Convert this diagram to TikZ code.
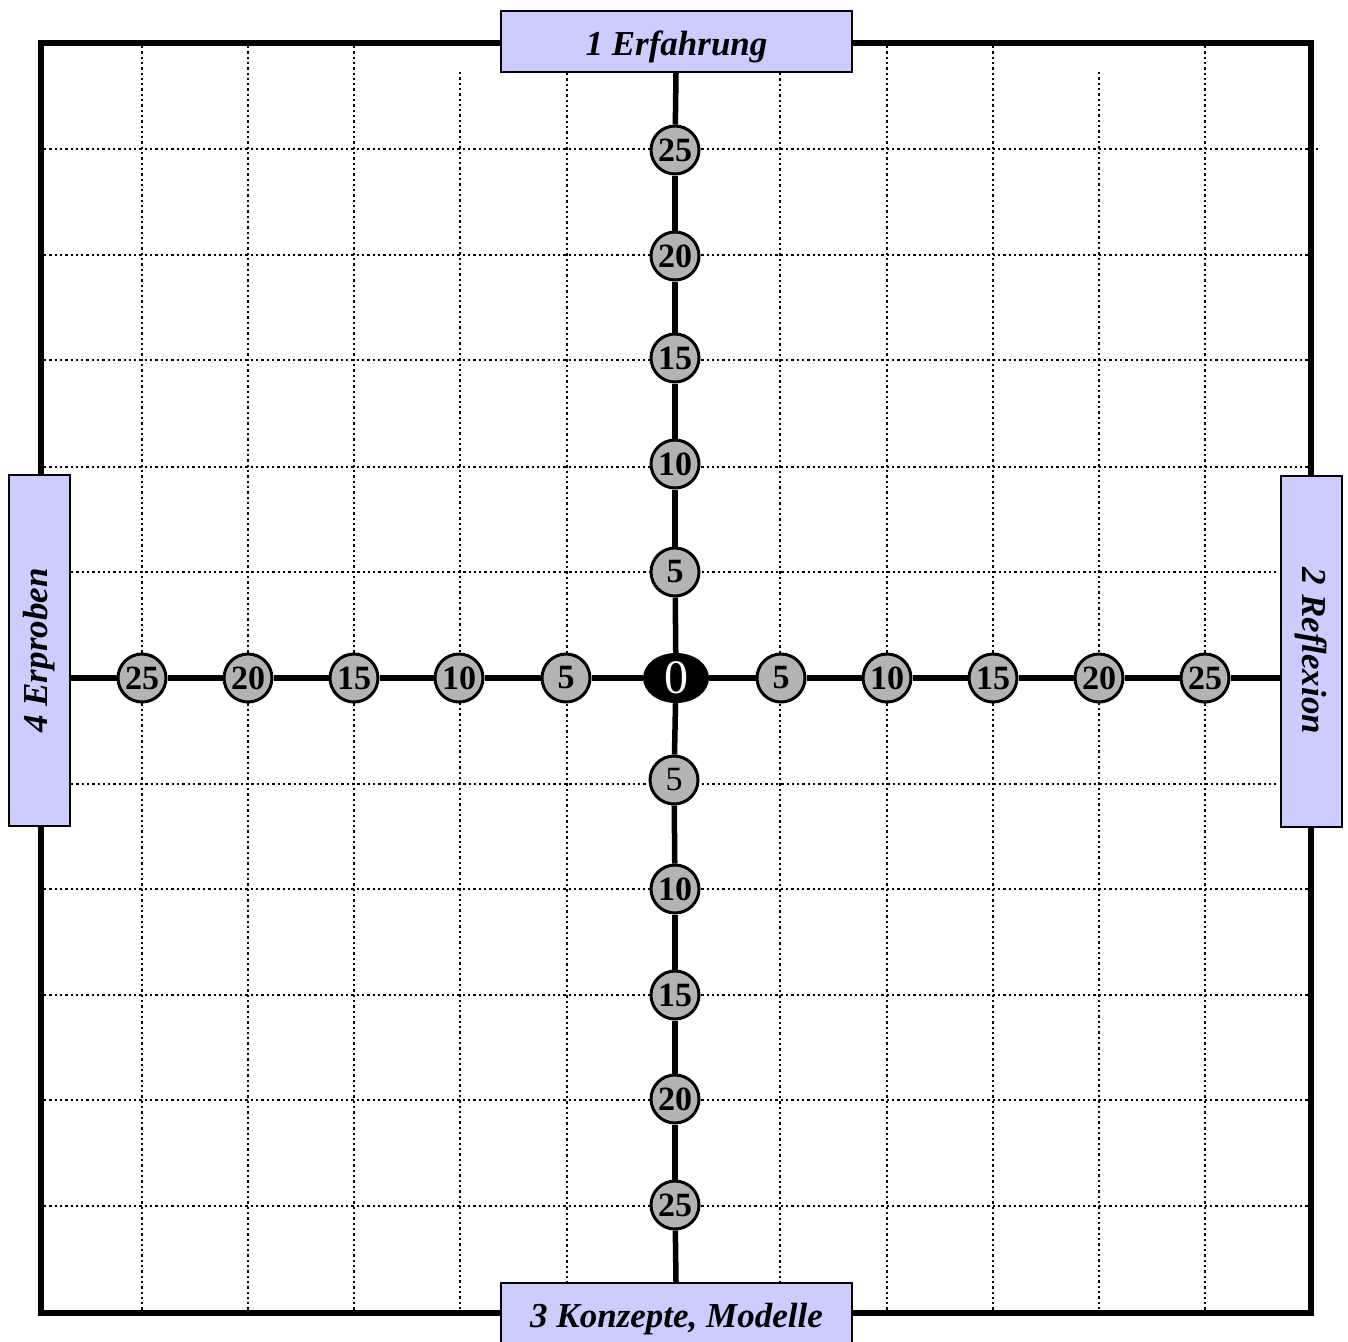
\documentclass[tikz,border=0pt]{standalone}
\usepackage{fontspec}
\setmainfont{Liberation Serif}
\usetikzlibrary{shapes.geometric}
\definecolor{boxblue}{HTML}{CCCCFF}
\definecolor{tickgray}{HTML}{B3B3B3}
\begin{document}
\begin{tikzpicture}[x=1pt,y=-1pt,
  frameline/.style={line width=6.5pt},
  axisline/.style={line width=5.5pt},
  gridline/.style={line width=2.3pt, dash pattern=on 2.3pt off 3pt},
  labelbox/.style={draw, line width=2pt, fill=boxblue, inner sep=0pt,
    minimum width=351pt, minimum height=61pt,
    font=\fontsize{35}{40}\selectfont\bfseries\itshape},
  lowtext/.style={text height=30pt, text depth=3pt},
  tick/.style={circle, draw, line width=3pt, fill=tickgray, minimum size=48pt,
    inner sep=0pt, font=\fontsize{34}{34}\selectfont\bfseries},
  zeronode/.style={ellipse, fill=black, text=white, minimum width=66pt,
    minimum height=50pt, inner sep=0pt, font=\fontsize{48}{48}\selectfont},
]
\clip (0,0) rectangle (1348,1341);
\useasboundingbox (0,0) rectangle (1348,1341);
% grid
\foreach \y in {255,360,467,889,995,1100,1206}{
  \draw[gridline] (44,\y) -- (1308,\y);}
\draw[gridline] (44,149) -- (1318,149);
\foreach \y in {572,784}{
  \draw[gridline] (71,\y) -- (1279,\y);}
\foreach \x in {142,248,354,887,993,1205}{
  \draw[gridline] (\x,46) -- (\x,1310);}
\foreach \x in {460,1099}{
  \draw[gridline] (\x,72) -- (\x,1310);}
\foreach \x in {567,780}{
  \draw[gridline] (\x,73) -- (\x,1282);}
% frame
\draw[frameline] (41,43) rectangle (1311,1313);
% label boxes
\node[labelbox, lowtext] (top) at (676.5,41.5) {1 Erfahrung};
\node[labelbox, lowtext] (bot) at (676.5,1313.5) {3 Konzepte, Modelle};
\node[labelbox, rotate=90] (lbox) at (39.5,650.5) {4 Erproben};
\node[labelbox, rotate=-90] (rbox) at (1311,651) {2 Reflexion};
% centre
\node[zeronode] (z) at (676,678) {0};
% vertical ticks
\node[tick] (u5) at (675,572) {5};
\node[tick] (u10) at (675,464) {10};
\node[tick] (u15) at (675,358) {15};
\node[tick] (u20) at (675,256) {20};
\node[tick] (u25) at (675,150) {25};
\node[tick, font=\fontsize{34}{34}\selectfont] (d5) at (674,780) {5};
\node[tick] (d10) at (675,889) {10};
\node[tick] (d15) at (675,995) {15};
\node[tick] (d20) at (675,1099) {20};
\node[tick] (d25) at (675,1205) {25};
% horizontal ticks
\node[tick] (l5) at (566,678) {5};
\node[tick] (l10) at (459,678) {10};
\node[tick] (l15) at (354,678) {15};
\node[tick] (l20) at (248,678) {20};
\node[tick] (l25) at (142,678) {25};
\node[tick] (r5) at (781,678) {5};
\node[tick] (r10) at (887,678) {10};
\node[tick] (r15) at (993,678) {15};
\node[tick] (r20) at (1099,678) {20};
\node[tick] (r25) at (1205,678) {25};
% axes
\draw[axisline] (top.south -| z) -- (u25);
\draw[axisline] (u25) -- (u20);
\draw[axisline] (u20) -- (u15);
\draw[axisline] (u15) -- (u10);
\draw[axisline] (u10) -- (u5);
\draw[axisline] (u5) -- (z);
\draw[axisline] (z) -- (d5);
\draw[axisline] (d5) -- (d10);
\draw[axisline] (d10) -- (d15);
\draw[axisline] (d15) -- (d20);
\draw[axisline] (d20) -- (d25);
\draw[axisline] (d25) -- (bot.north -| z);
\draw[axisline] (lbox.south |- z) -- (l25);
\draw[axisline] (l25) -- (l20);
\draw[axisline] (l20) -- (l15);
\draw[axisline] (l15) -- (l10);
\draw[axisline] (l10) -- (l5);
\draw[axisline] (l5) -- (z);
\draw[axisline] (z) -- (r5);
\draw[axisline] (r5) -- (r10);
\draw[axisline] (r10) -- (r15);
\draw[axisline] (r15) -- (r20);
\draw[axisline] (r20) -- (r25);
\draw[axisline] (r25) -- (rbox.south |- z);
\end{tikzpicture}
\end{document}
